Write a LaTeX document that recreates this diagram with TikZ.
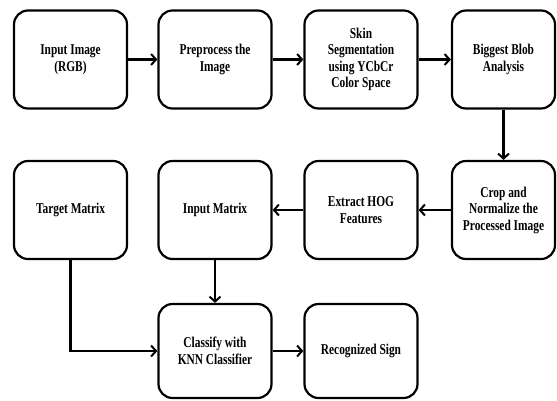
\documentclass[tikz,border=0pt]{standalone}
\usepackage{fontspec}
\setmainfont{Liberation Serif}[FakeStretch=0.76]
\usepackage{tikz}
\usetikzlibrary{arrows.meta, positioning, calc}

\begin{document}
\begin{tikzpicture}[x=1pt, y=-1pt, >={Straight Barb[length=5pt, width=11pt, line width=2pt]}]

\tikzset{
    stagebox/.style={rectangle, rounded corners=14pt, minimum width=113pt, minimum height=98pt,
                     text centered, align=center, font=\fontsize{15}{16.5}\selectfont\bfseries,
                     line width=2.2pt, draw=black, fill=white, inner sep=2pt},
    flow/.style={->, line width=2.2pt, color=black}
}

\useasboundingbox (0,0) rectangle (557,400);

% ── first row ──
\node[stagebox] (input) at (70.5, 59.5)  {Input Image\\(RGB)};
\node[stagebox] (prep)  at (215, 59.5)   {Preprocess the\\Image};
\node[stagebox] (skin)  at (361, 59.5)   {Skin\\Segmentation\\using YCbCr\\Color Space};
\node[stagebox, minimum width=103pt] (blob) at (503.5, 59.5) {Biggest Blob\\Analysis};

\draw[flow] (input) -- (prep);
\draw[flow] (prep)  -- (skin);
\draw[flow] (skin)  -- (blob);

% ── second row ──
\node[stagebox] (target) at (70.5, 210)  {Target Matrix};
\node[stagebox] (inmat)  at (215, 210)   {Input Matrix};
\node[stagebox] (hog)    at (361, 210)   {Extract HOG\\Features};
\node[stagebox, minimum width=103pt] (crop) at (503.5, 210) {Crop and\\Normalize the\\Processed Image};

\draw[flow] (blob.south) -- (crop.north);
\draw[flow] (crop) -- (hog);
\draw[flow] (hog)  -- (inmat);

% ── third row ──
\node[stagebox, minimum height=94pt] (knn)  at (215, 351)  {Classify with\\KNN Classifier};
\node[stagebox, minimum height=94pt] (sign) at (361, 351)  {Recognized Sign};

\draw[flow] (inmat.south) -- (knn.north);
\draw[flow] (target.south) |- (knn.west);
\draw[flow] (knn) -- (sign);

\end{tikzpicture}
\end{document}
